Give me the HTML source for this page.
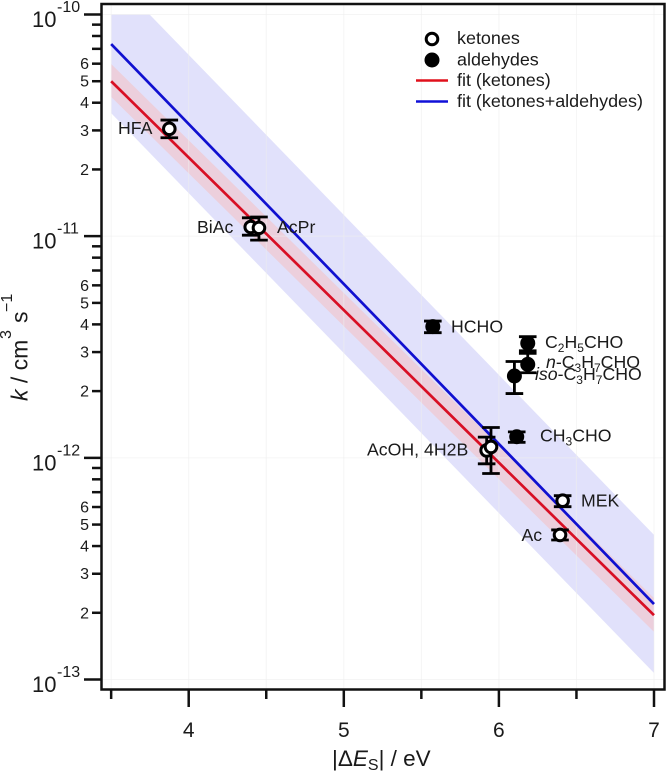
<!DOCTYPE html>
<html>
<head>
<meta charset="utf-8">
<title>Rate constant vs energy gap</title>
<style>
html,body{margin:0;padding:0;background:#fff;}
svg{display:block;filter:blur(0.35px);}
text{font-family:"Liberation Sans",sans-serif;fill:#1a1a1a;}
</style>
</head>
<body>
<svg id="chart" xmlns="http://www.w3.org/2000/svg" width="666" height="773" viewBox="0 0 666 773">
  <g id="bands"></g>
  <g id="grid"></g>
  <g id="lines"></g>
  <g id="points"></g>
  <rect x="101.5" y="4" width="563" height="685.5" fill="none" stroke="#111" stroke-width="2.5"/>
  <g id="axes"></g>

  <g font-size="17.7">
    <text x="118" y="134">HFA</text>
    <text x="197" y="233">BiAc</text>
    <text x="277" y="233">AcPr</text>
    <text x="451" y="332.5">HCHO</text>
    <text x="545" y="348">C<tspan font-size="12" dy="4">2</tspan><tspan dy="-4">H</tspan><tspan font-size="12" dy="4">5</tspan><tspan dy="-4">CHO</tspan></text>
    <text x="546" y="368"><tspan font-style="italic">n</tspan>-C<tspan font-size="12" dy="4">3</tspan><tspan dy="-4">H</tspan><tspan font-size="12" dy="4">7</tspan><tspan dy="-4">CHO</tspan></text>
    <text x="535" y="380"><tspan font-style="italic">iso</tspan>-C<tspan font-size="12" dy="4">3</tspan><tspan dy="-4">H</tspan><tspan font-size="12" dy="4">7</tspan><tspan dy="-4">CHO</tspan></text>
    <text x="540" y="441.5">CH<tspan font-size="12" dy="4">3</tspan><tspan dy="-4">CHO</tspan></text>
    <text x="367" y="455.5">AcOH, 4H2B</text>
    <text x="581" y="506.5">MEK</text>
    <text x="521.5" y="541">Ac</text>
  </g>

  <g font-size="17.95">
    <circle cx="432" cy="39" r="5.8" fill="#fff" stroke="#000" stroke-width="3"/>
    <text x="457" y="44">ketones</text>
    <circle cx="432" cy="60" r="7.5" fill="#000"/>
    <text x="457" y="65.5">aldehydes</text>
    <line x1="416" x2="448" y1="80.5" y2="80.5" stroke="#e0101c" stroke-width="2.5"/>
    <text x="457" y="86">fit (ketones)</text>
    <line x1="416" x2="448" y1="101.5" y2="101.5" stroke="#1010d8" stroke-width="2.5"/>
    <text x="457" y="107">fit (ketones+aldehydes)</text>
  </g>

  <text x="332" y="766" font-size="22.5">|Δ<tspan font-style="italic">E</tspan><tspan font-size="16" dy="4">S</tspan><tspan dy="-4">| / eV</tspan></text>

  <g font-size="23">
    <text transform="translate(27.5,401) rotate(-90)"><tspan font-style="italic">k</tspan> / cm</text>
    <text transform="translate(11,339) rotate(-90)" font-size="16">3</text>
    <text transform="translate(27.5,323) rotate(-90)">s</text>
    <text transform="translate(12,312) rotate(-90)" font-size="16">−1</text>
  </g>

  <script>
  var fitX = [3.5, 7];
  var fitKetones = [5.0e-11, 1.95e-13];
  var fitAll = [7.36e-11, 2.19e-13];
  var allBandUpper = [1.51e-10, 4.49e-13];
  var allBandLower = [3.59e-11, 1.07e-13];
  var ketBandUpper = [5.98e-11, 2.33e-13];
  var ketBandLower = [4.25e-11, 1.64e-13];

  var pointNames = ['hfa','biac','acpr','acoh','4h2b','mek','ac','hcho','c2h5cho','n-c3h7cho','iso-c3h7cho','ch3cho'];
  var pointKinds = ['ketone','ketone','ketone','ketone','ketone','ketone','ketone','aldehyde','aldehyde','aldehyde','aldehyde','aldehyde'];
  var pointX = [3.875,4.40,4.453,5.921,5.949,6.411,6.394,5.574,6.186,6.186,6.10,6.115];
  var pointK = [3.05e-11,1.10e-11,1.09e-11,1.08e-12,1.12e-12,6.41e-13,4.49e-13,3.91e-12,3.29e-12,2.64e-12,2.34e-12,1.245e-12];
  var pointHi = [3.34e-11,1.21e-11,1.22e-11,1.24e-12,1.37e-12,6.75e-13,4.73e-13,4.14e-12,3.52e-12,2.96e-12,2.72e-12,1.31e-12];
  var pointLo = [2.78e-11,1.01e-11,9.6e-12,9.4e-13,8.5e-13,6.02e-13,4.26e-13,3.67e-12,3.04e-12,2.42e-12,1.95e-12,1.175e-12];

  var xMajorTicks = [4,5,6,7];
  var xMinorTicks = [3.5,4.5,5.5,6.5];
  var yDecades = [-10,-11,-12,-13];
  var yMinorDigits = [2,3,4,5,6,7,8,9];
  var yLabelledDigits = [2,3,4,5,6];

  var NS = 'http://www.w3.org/2000/svg';
  function sx(v){ return 188.7 + (v - 4) * 155.1; }
  function sy(v){ return 14.5 + (-10 - Math.log10(v)) * 221.67; }
  function mk(parent, tag, attrs){
    var el = document.createElementNS(NS, tag);
    for (var k in attrs) el.setAttribute(k, attrs[k]);
    parent.appendChild(el);
    return el;
  }

  var bands = document.getElementById('bands');
  var grid = document.getElementById('grid');
  var lines = document.getElementById('lines');
  var points = document.getElementById('points');
  var axes = document.getElementById('axes');

  var svg = document.getElementById('chart');
  var defs = mk(svg, 'defs', {});
  var clip = mk(defs, 'clipPath', {id:'plot-clip'});
  mk(clip, 'rect', {x:sx(3.5), y:sy(1e-10), width:sx(7)-sx(3.5), height:sy(1e-13)-sy(1e-10)});
  bands.setAttribute('clip-path', 'url(#plot-clip)');

  function bandPath(up, lo){
    return 'M' + sx(fitX[0]) + ' ' + sy(up[0]) + 'L' + sx(fitX[1]) + ' ' + sy(up[1]) +
           'L' + sx(fitX[1]) + ' ' + sy(lo[1]) + 'L' + sx(fitX[0]) + ' ' + sy(lo[0]) + 'Z';
  }
  var bandAll = mk(bands, 'path', {d:bandPath(allBandUpper, allBandLower), fill:'#e1e1fb'});
  
  
  var bandKet = mk(bands, 'path', {d:bandPath(ketBandUpper, ketBandLower), fill:'#eccfdc'});
  
  

  var gridX = xMajorTicks.concat(xMinorTicks);
  gridX.forEach(function(v){
    var g = mk(grid, 'line', {x1:sx(v), x2:sx(v), y1:5, y2:689, stroke:'#eeeeee', 'stroke-width':1, opacity:0.6});
    
    
  });
  yDecades.forEach(function(d){
    var g = mk(grid, 'line', {x1:102, x2:664, y1:sy(Math.pow(10,d)), y2:sy(Math.pow(10,d)), stroke:'#eeeeee', 'stroke-width':1, opacity:0.6});
    
    
  });

  var lineKet = mk(lines, 'line', {x1:sx(fitX[0]), y1:sy(fitKetones[0]), x2:sx(fitX[1]), y2:sy(fitKetones[1]), stroke:'#d80f24', 'stroke-width':2.7});
  
  
  var lineAll = mk(lines, 'line', {x1:sx(fitX[0]), y1:sy(fitAll[0]), x2:sx(fitX[1]), y2:sy(fitAll[1]), stroke:'#1010d0', 'stroke-width':2.7});
  
  

  pointX.forEach(function(v, i){
    var g = mk(points, 'g', {});
    
    
    var cx = sx(v), yh = sy(pointHi[i]), yl = sy(pointLo[i]);
    mk(g, 'line', {x1:cx, x2:cx, y1:yh, y2:yl, stroke:'#000', 'stroke-width':2.8});
    mk(g, 'line', {x1:cx-8.8, x2:cx+8.8, y1:yh, y2:yh, stroke:'#000', 'stroke-width':2.8});
    mk(g, 'line', {x1:cx-8.8, x2:cx+8.8, y1:yl, y2:yl, stroke:'#000', 'stroke-width':2.8});
    if (pointKinds[i] === 'ketone') {
      mk(g, 'circle', {cx:cx, cy:sy(pointK[i]), r:5.8, fill:'#fff', stroke:'#000', 'stroke-width':3});
    } else {
      mk(g, 'circle', {cx:cx, cy:sy(pointK[i]), r:7.5, fill:'#000'});
    }
  });

  function xTick(v, len){
    var t = mk(axes, 'line', {x1:sx(v), x2:sx(v), y1:689, y2:689+len, stroke:'#111', 'stroke-width':2.5});
    
    
  }
  xMinorTicks.forEach(function(v){ xTick(v, 10); });
  xMajorTicks.forEach(function(v){
    xTick(v, 18);
    var t = mk(axes, 'text', {x:sx(v), y:737, 'text-anchor':'middle', 'font-size':21});
    
    
    t.textContent = String(v);
  });

  function yTick(y, x1){
    var t = mk(axes, 'line', {x1:x1, x2:101, y1:y, y2:y, stroke:'#111', 'stroke-width':2.5});
    
    
  }
  yDecades.forEach(function(d, i){
    var base = Math.pow(10, d);
    var y = sy(base);
    yTick(y, 84);
    var t = mk(axes, 'text', {x:32, y:y+12.5, 'font-size':22});
    
    
    t.textContent = '10';
    var e = mk(axes, 'text', {x:57, y:y-2.5, 'font-size':16});
    
    
    e.textContent = String(d);
    if (i < yDecades.length - 1) {
      var lower = Math.pow(10, d - 1);
      yMinorDigits.forEach(function(m){
        var ym = sy(m * lower);
        yTick(ym, 92);
        if (yLabelledDigits.indexOf(m) >= 0) {
          var l = mk(axes, 'text', {x:89, y:ym+5.5, 'text-anchor':'end', 'font-size':16});
          
          
          l.textContent = String(m);
        }
      });
    }
  });
  </script>
</svg>
</body>
</html>
